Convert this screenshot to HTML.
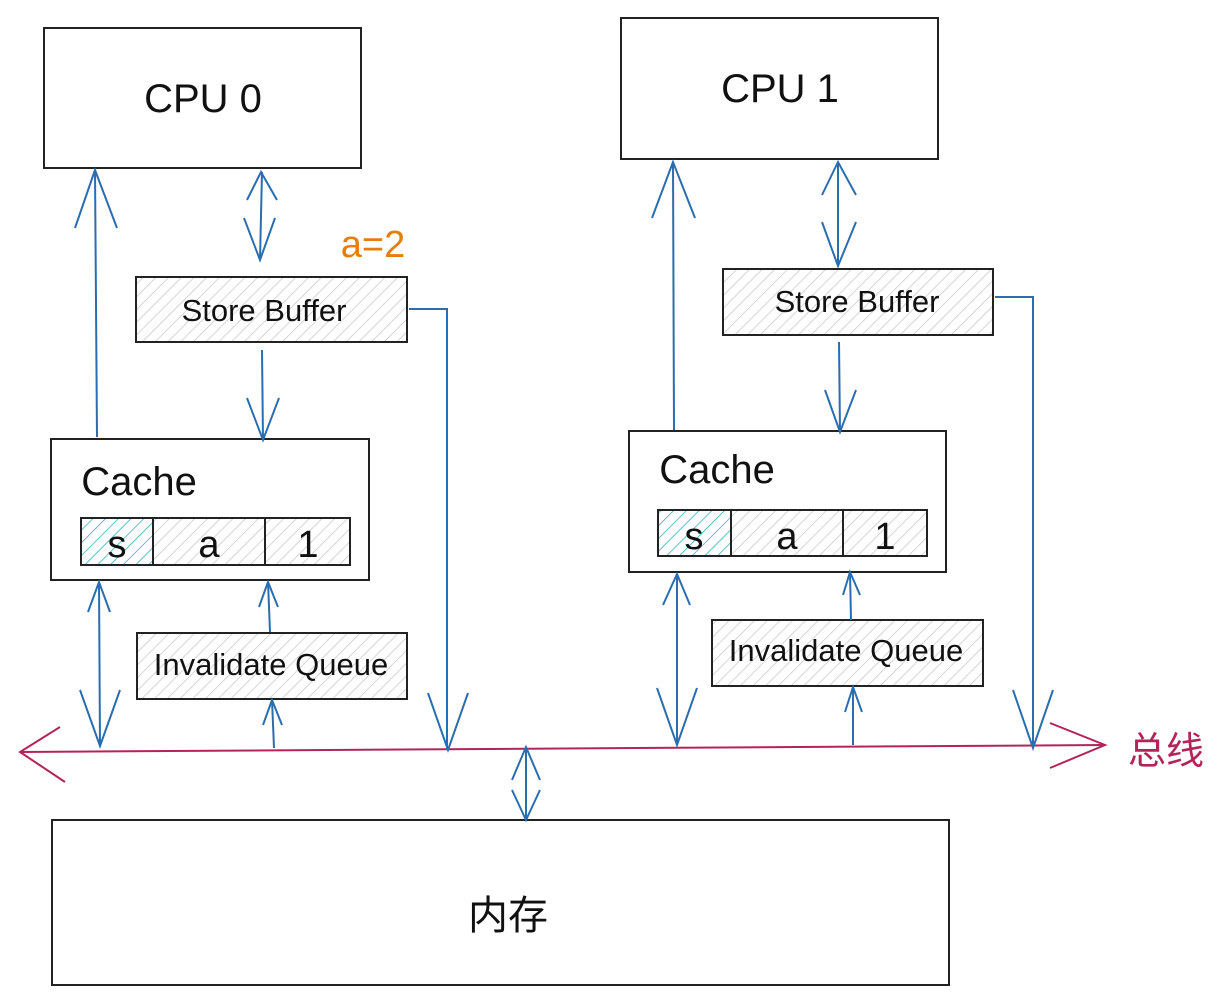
<!DOCTYPE html>
<html><head><meta charset="utf-8"><style>body{margin:0;background:#fff}svg{display:block}</style></head>
<body>
<svg width="1225" height="1007" viewBox="0 0 1225 1007" xmlns="http://www.w3.org/2000/svg" font-family="Liberation Sans, Noto Sans CJK SC, sans-serif">
<defs>
<pattern id="h" width="9" height="9" patternUnits="userSpaceOnUse" patternTransform="rotate(45)">
<rect width="9" height="9" fill="#fff"/><line x1="0" y1="0" x2="0" y2="9" stroke="#c4c4c4" stroke-width="1.4"/></pattern>
<pattern id="t" width="9" height="9" patternUnits="userSpaceOnUse" patternTransform="rotate(45)">
<rect width="9" height="9" fill="#fff"/><line x1="0" y1="0" x2="0" y2="9" stroke="#1aa8b8" stroke-width="1.4"/></pattern>
</defs>
<g fill="none" stroke="#222" stroke-width="2">
<rect x="44" y="28" width="317" height="140" fill="#fff"/>
<rect x="621" y="18" width="317" height="141" fill="#fff"/>
<rect x="136" y="277" width="271" height="65" fill="url(#h)"/>
<rect x="723" y="269" width="270" height="66" fill="url(#h)"/>
<rect x="51" y="439" width="318" height="141" fill="#fff"/>
<rect x="629" y="431" width="317" height="141" fill="#fff"/>
<rect x="81" y="518" width="72" height="47" fill="url(#t)"/>
<rect x="153" y="518" width="112" height="47" fill="url(#h)"/>
<rect x="265" y="518" width="85" height="47" fill="url(#h)"/>
<rect x="658" y="510" width="73" height="46" fill="url(#t)"/>
<rect x="731" y="510" width="112" height="46" fill="url(#h)"/>
<rect x="843" y="510" width="84" height="46" fill="url(#h)"/>
<rect x="137" y="633" width="270" height="66" fill="url(#h)"/>
<rect x="712" y="620" width="271" height="66" fill="url(#h)"/>
<rect x="52" y="820" width="897" height="165" fill="#fff"/>
</g>
<g fill="none" stroke="#b3245a" stroke-width="2">
<line x1="20" y1="752" x2="1105" y2="745"/>
<polyline points="60,727 20,752 65,782"/>
<polyline points="1050,723 1105,745 1050,768"/>
</g>
<g fill="none" stroke="#2a6db0" stroke-width="2">
<line x1="97" y1="437" x2="95" y2="170"/><polyline points="75,228 95,170 117,228"/>
<line x1="262" y1="172" x2="260" y2="260"/><polyline points="247,200 261,172 277,200"/><polyline points="244,218 260,260 275,218"/>
<line x1="262" y1="350" x2="263" y2="440"/><polyline points="247,398 263,440 279,398"/>
<polyline points="409,309 447,309 447,750"/><polyline points="428,693 448,750 468,693"/>
<line x1="99" y1="582" x2="100" y2="746"/><polyline points="88,612 99,582 110,612"/><polyline points="80,690 100,746 120,690"/>
<line x1="270" y1="632" x2="268" y2="582"/><polyline points="259,607 268,582 278,607"/>
<line x1="274" y1="748" x2="272" y2="700"/><polyline points="263,725 272,700 282,725"/>
<line x1="526" y1="747" x2="526" y2="820"/><polyline points="512,780 526,747 540,780"/><polyline points="512,790 526,820 540,790"/>
<line x1="674" y1="430" x2="673" y2="162"/><polyline points="652,218 673,162 695,218"/>
<line x1="838" y1="162" x2="838" y2="266"/><polyline points="822,195 838,162 856,195"/><polyline points="822,222 838,266 856,222"/>
<line x1="839" y1="342" x2="840" y2="432"/><polyline points="825,390 840,432 856,390"/>
<polyline points="995,297 1033,297 1033,748"/><polyline points="1013,690 1033,748 1053,690"/>
<line x1="677" y1="574" x2="677" y2="745"/><polyline points="663,605 677,574 690,605"/><polyline points="657,688 677,745 697,688"/>
<line x1="851" y1="620" x2="850" y2="572"/><polyline points="843,595 850,572 860,595"/>
<line x1="853" y1="745" x2="853" y2="687"/><polyline points="845,712 853,687 862,712"/>
</g>
<g fill="#111" text-anchor="middle">
<text x="203" y="112" font-size="40">CPU 0</text>
<text x="780" y="102" font-size="40">CPU 1</text>
<text x="264" y="321" font-size="31">Store Buffer</text>
<text x="857" y="312" font-size="31">Store Buffer</text>
<text x="139" y="495" font-size="40">Cache</text>
<text x="717" y="483" font-size="40">Cache</text>
<text x="117" y="557" font-size="38">s</text>
<text x="209" y="557" font-size="38">a</text>
<text x="308" y="557" font-size="38">1</text>
<text x="694" y="549" font-size="38">s</text>
<text x="787" y="549" font-size="38">a</text>
<text x="885" y="549" font-size="38">1</text>
<text x="271" y="675" font-size="31">Invalidate Queue</text>
<text x="846" y="661" font-size="31">Invalidate Queue</text>
<text x="508" y="929" font-size="40">内存</text>
<text x="373" y="257" font-size="38" fill="#e67e0c">a=2</text>
<text x="1166" y="764" font-size="38" fill="#b3245a">总线</text>
</g>
</svg>
</body></html>
